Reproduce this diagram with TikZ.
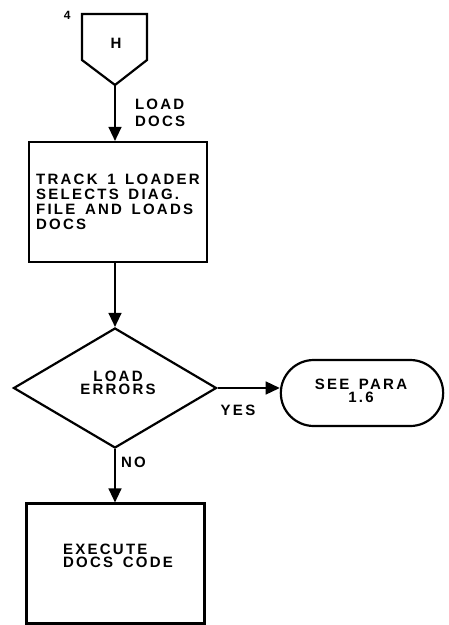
\documentclass[tikz,border=0pt]{standalone}
\usepackage{fontspec}
\setmainfont{Liberation Sans}[LetterSpace=15,WordSpace=1.5]
\usetikzlibrary{arrows.meta,shapes.geometric,shapes.misc}

\tikzset{
  box/.style={draw,line width=2.2pt,minimum width=178pt,minimum height=120pt,inner sep=5pt},
  arr/.style={line width=1.4pt,-{Triangle[width=13pt,length=14pt]}},
  txt/.style={font=\bfseries\fontsize{15}{15}\selectfont}
}

\begin{document}
\begin{tikzpicture}[x=1pt,y=-1pt,txt]
\useasboundingbox (0,0) rectangle (448,625);
\node (conn) at (116,43) {H};
\draw[line width=2.2pt] (82,14) -- (147,14) -- (147,60) -- (115,85) -- (82,60) -- cycle;
\coordinate (conntip) at (115,85);
\node[anchor=east,font=\bfseries\fontsize{12}{12}\selectfont] (page) at (74,15) {4};
\node[box,align=left] (track) at (118,202) {TRACK 1 LOADER\\SELECTS DIAG.\\FILE AND LOADS\\DOCS};
\node[draw,line width=2.2pt,diamond,minimum width=203pt,minimum height=120pt,inner sep=0pt] (err) at (115,388) {};
\node[align=center,font=\bfseries\fontsize{15}{13.5}\selectfont] (errtxt) at (118,383) {LOAD\\ERRORS};
\node[draw,line width=2.2pt,rounded rectangle,minimum width=169pt,minimum height=66pt] (para) at (362,393) {};
\node[align=center,font=\bfseries\fontsize{15}{13.5}\selectfont] (paratxt) at (361,391) {SEE PARA\\1.6};
\node[box] (exec) at (115.5,563.5) {};
\node[align=left,font=\bfseries\fontsize{15}{13.5}\selectfont] (exectxt) at (118,556) {EXECUTE\\DOCS CODE};
\draw[arr] (conntip) -- node[right=16pt,align=left,font=\bfseries\fontsize{15}{17}\selectfont] {LOAD\\DOCS} (conntip |- track.north);
\draw[arr] (track.south -| conntip) -- (err.north);
\draw[arr] (err.east) -- (err.east -| para.west);
\node (yes) at (238,410) {YES};
\draw[arr] (err.south) -- node[pos=0.25,right=2pt] {NO} (err.south |- exec.north);
\end{tikzpicture}
\end{document}
